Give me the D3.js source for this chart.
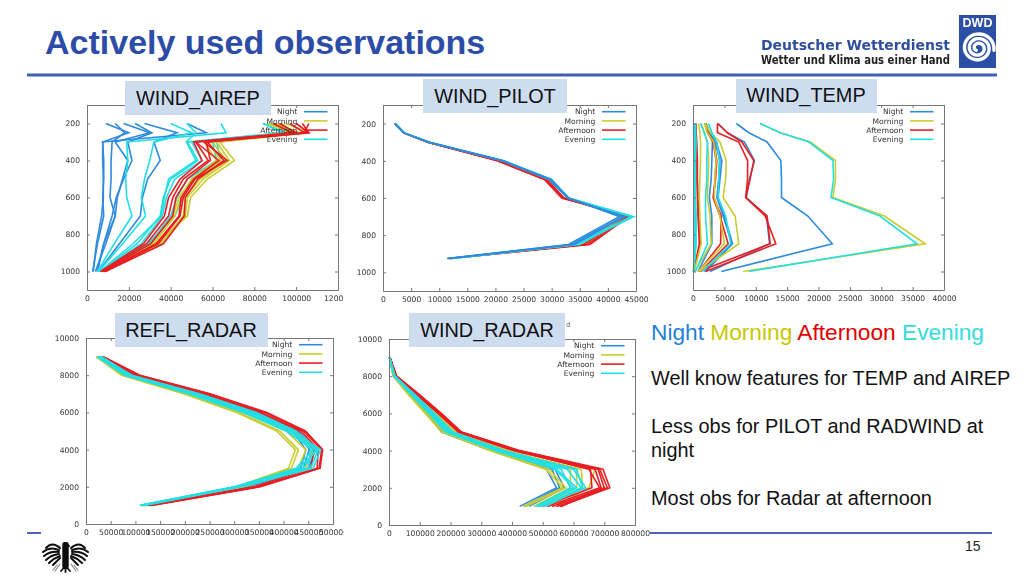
<!DOCTYPE html>
<html><head><meta charset="utf-8">
<script src="https://cdn.jsdelivr.net/npm/d3@7/dist/d3.min.js"></script>
<style>html,body{margin:0;padding:0;background:#fff;overflow:hidden}svg{display:block}text{font-family:"Liberation Sans",Arial,sans-serif}</style>
</head><body><svg id="c" width="1024" height="576"></svg>
<script>
const periods=["Night","Morning","Afternoon","Evening"];
const periodColors={Night:"#2e8ade",Morning:"#c9cc2e",Afternoon:"#e81e22",Evening:"#22dfe4"};
const pressureLevels=[200,250,300,400,500,600,700,850,1000];
const pilotLevels=[200,250,300,400,500,600,700,850,925];
const heightLevels=[1000,2000,3000,4000,5000,6000,7000,8000,9000];
const pressureTicks=[200,400,600,800,1000];
const heightTicks=[0,2000,4000,6000,8000,10000];

const airepNight=[
[9000,20000,7500,8000,8000,7500,8000,5000,2700],
[47800,57000,7500,7500,7800,7800,7000,4500,3000],
[13500,18000,12000,11500,11500,11000,13500,8000,4800],
[17500,30000,13500,19500,17000,14500,13500,9000,4000],
[23000,31000,19500,21500,17500,14000,12000,8000,5000],
[27500,43000,32000,35000,29000,26500,25500,15500,5500]];
const airepEvening=[
[64000,66500,19000,19500,18500,19000,21500,13000,5000],
[40000,50000,32000,30000,27500,26000,28000,17000,5500],
[47800,52000,47500,52000,39000,37000,35500,22000,6000],
[84000,95000,48000,53000,40000,36500,35000,24000,6200],
[84500,93000,50000,55000,42000,38000,36000,26000,6500],
[87000,98000,60000,62000,48000,43000,40000,30000,7000],
[90000,100000,62000,64000,50000,46000,42000,29000,7200]];
const airepMorning=[
[95000,106000,63500,70500,57500,49500,48000,33000,8800],
[90000,102000,62000,68000,55500,48000,47000,36000,8500],
[86000,98000,60000,66500,54000,47000,46000,35000,8200],
[93000,99000,58000,64000,52000,45000,42000,32000,7800],
[88000,97000,56000,62000,50000,44000,41000,31000,7500]];
const airepAfternoon=[
[103000,106000,57500,65500,53000,47000,46500,36500,8800],
[106000,104000,56000,67000,51500,46000,44500,34000,8400],
[100000,106000,52000,63000,51000,45000,44000,33000,8000],
[97000,104000,57000,59000,48000,42500,41000,30500,7500],
[92000,100000,52000,58000,46000,41000,39000,28500,7000],
[89000,98000,51000,55000,44500,39000,37000,27000,6500]];

const pilotNight=[
[2100,3700,8100,21300,29700,33000,42000,33000,11400],
[2100,3700,8200,21400,29900,32900,42600,33500,11600],
[2150,3750,8200,21200,29600,32800,43000,34000,11500]];
const pilotMorning=[
[2100,3700,8000,20500,28800,32000,43500,35500,11800],
[2100,3700,8100,20800,29000,32200,43200,35000,11900],
[2100,3700,8000,20600,28900,32100,43400,35800,11700]];
const pilotAfternoon=[
[2100,3700,7900,20300,28700,31800,43700,36800,11900],
[2100,3700,8000,20500,28900,32000,43900,36300,12000],
[2100,3700,8000,20700,29200,32200,43500,35700,11800]];
const pilotEvening=[
[2200,3800,8300,21400,29800,33000,44600,34500,12200],
[2200,3800,8300,21500,30000,33100,44300,34000,12000],
[2150,3750,8200,21200,29500,32900,44000,35000,12100]];

const tempNight=[
[6900,8900,11800,14000,14100,14100,18300,22200,4500],
[2000,2600,3700,4600,4300,4000,5000,6300,2000],
[1900,2500,3500,4300,4100,3800,4800,6200,1800],
[2100,2700,3100,3000,2900,2600,3000,3000,800],
[4000,5500,8200,9800,9000,8500,11700,12200,2700],
[200,250,300,300,300,300,300,400,100]];
const tempMorning=[
[10700,13900,18700,22700,22700,22300,30500,37000,8000],
[1900,2800,4300,5300,5200,4800,6700,7300,1000],
[1300,1800,2300,2500,2400,2300,2700,2900,300],
[900,1100,1200,1200,1100,1000,1100,1300,200],
[1800,2300,3300,3700,3500,3400,4300,5000,800]];
const tempAfternoon=[
[3900,3900,7300,8700,8700,8400,11500,13200,2000],
[3900,5500,7800,9700,9100,8400,11800,12300,900],
[2000,2400,3300,3800,3600,3200,4300,5600,1200],
[1900,2300,3200,3700,3500,3300,4500,4400,900],
[500,500,600,700,700,800,900,1200,100],
[300,400,500,600,600,700,800,1000,100]];
const tempEvening=[
[10700,13900,18500,22300,22400,22000,29800,35700,8900],
[1200,1800,2300,2200,2200,2000,2000,2300,400],
[300,300,300,300,300,300,300,400,100],
[100,100,150,200,200,200,200,300,50],
[400,400,500,400,400,400,500,500,100],
[2500,3000,3800,4200,4100,4000,5200,6000,1500]];

const reflNight=[
[120000,325000,440000,452000,425000,345000,232000,97000,31000],
[118000,322000,435000,445000,418000,340000,228000,95000,30000],
[121000,328000,450000,465000,430000,350000,238000,101000,32000]];
const reflMorning=[
[112000,305000,410000,424000,386000,305000,197000,72000,20000],
[113000,307000,416000,430000,392000,310000,200000,75000,21000],
[115000,315000,430000,445000,405000,320000,210000,80000,24000],
[118000,320000,445000,460000,420000,335000,225000,90000,28000]];
const reflAfternoon=[
[133000,353000,474000,479000,444000,366000,251000,109000,35000],
[130000,350000,472000,477000,440000,362000,248000,107000,34000],
[128000,345000,468000,470000,435000,355000,240000,103000,33000],
[125000,340000,455000,462000,428000,350000,235000,100000,32000]];
const reflEvening=[
[110000,300000,430000,470000,410000,325000,212000,82000,24000],
[112000,302000,440000,465000,415000,330000,218000,85000,26000],
[114000,305000,450000,455000,420000,338000,222000,88000,28000],
[116000,310000,455000,470000,425000,345000,230000,93000,30000],
[118000,315000,460000,475000,415000,335000,220000,90000,32000],
[109000,303000,425000,460000,405000,318000,207000,78000,22000]];

const radarNight=[
[425000,545000,512000,330000,171000,122000,65000,14000,1000],
[440000,555000,530000,335000,175000,125000,68000,15000,1500],
[455000,570000,540000,340000,180000,128000,70000,16000,1500]];
const radarMorning=[
[435000,565000,510000,328000,172000,118000,63000,14000,1000],
[445000,575000,520000,335000,180000,125000,68000,16000,1500],
[470000,590000,590000,350000,195000,135000,78000,18000,2000],
[495000,610000,610000,365000,205000,145000,82000,19000,2000],
[520000,630000,625000,375000,210000,150000,85000,20000,2000],
[540000,650000,670000,390000,218000,155000,90000,22000,2500]];
const radarAfternoon=[
[555000,718000,696000,425000,236000,170000,100000,25000,3000],
[545000,710000,685000,420000,232000,168000,98000,24000,3000],
[530000,700000,680000,418000,230000,165000,96000,24000,3000],
[515000,685000,650000,410000,228000,162000,93000,23000,3000],
[500000,660000,655000,405000,225000,160000,90000,22000,2500],
[560000,690000,670000,415000,234000,168000,97000,24000,3000]];
const radarEvening=[
[475000,600000,540000,345000,185000,130000,72000,17000,1500],
[485000,610000,545000,350000,190000,133000,74000,17000,1500],
[500000,625000,580000,360000,200000,140000,80000,18000,2000],
[490000,640000,600000,370000,205000,145000,83000,19000,2000],
[510000,630000,610000,375000,208000,148000,85000,20000,2000],
[480000,590000,560000,355000,195000,137000,76000,18000,2000]];

const svg=d3.select("#c");
const defs=svg.append("defs");
defs.append("filter").attr("id","soft").attr("x","-5%").attr("y","-5%").attr("width","110%").attr("height","110%")
  .append("feGaussianBlur").attr("stdDeviation",0.5);

const panels=[
 {id:"airep",label:"WIND_AIREP",box:[125,81,146,34],lab:[198,105],x0:87,x1:338,y0:105,y1:290,xMax:120000,
  xTicks:[0,20000,40000,60000,80000,100000,120000],yDomain:[100,1100],yTicks:pressureTicks,levels:pressureLevels,
  clipRight:343,order:["Night","Evening","Morning","Afternoon"],
  data:{Night:airepNight,Morning:airepMorning,Afternoon:airepAfternoon,Evening:airepEvening}},
 {id:"pilot",label:"WIND_PILOT",box:[423,79,144,34],lab:[495,103],x0:383,x1:636,y0:105,y1:291,xMax:45000,
  xTicks:d3.range(0,45001,5000),yDomain:[100,1100],yTicks:pressureTicks,levels:pilotLevels,
  order:["Morning","Afternoon","Evening","Night"],
  data:{Night:pilotNight,Morning:pilotMorning,Afternoon:pilotAfternoon,Evening:pilotEvening}},
 {id:"temp",label:"WIND_TEMP",box:[736,79,141,34],lab:[806,102],x0:693,x1:944,y0:105,y1:290,xMax:40000,
  xTicks:d3.range(0,40001,5000),yDomain:[100,1100],yTicks:pressureTicks,levels:pressureLevels,
  order:["Night","Afternoon","Morning","Evening"],
  data:{Night:tempNight,Morning:tempMorning,Afternoon:tempAfternoon,Evening:tempEvening}},
 {id:"refl",label:"REFL_RADAR",box:[115,313,153,34],lab:[191,337],x0:86,x1:333,y0:338,y1:524,xMax:500000,
  xTicks:d3.range(0,500001,50000),yDomain:[0,10000],yTicks:heightTicks,levels:heightLevels,
  clipRight:344,order:["Night","Morning","Afternoon","Evening"],
  data:{Night:reflNight,Morning:reflMorning,Afternoon:reflAfternoon,Evening:reflEvening}},
 {id:"radar",label:"WIND_RADAR",box:[409,313,156,34],lab:[487,337],x0:389,x1:635,y0:339,y1:525,xMax:800000,
  xTicks:d3.range(0,800001,100000),yDomain:[0,10000],yTicks:heightTicks,levels:heightLevels,
  order:["Night","Morning","Afternoon","Evening"],
  data:{Night:radarNight,Morning:radarMorning,Afternoon:radarAfternoon,Evening:radarEvening}}
];

// page furniture
svg.append("text").attr("x",45).attr("y",54).attr("font-size",34).attr("font-weight","bold").attr("fill","#2c4ca8").text("Actively used observations");
svg.append("rect").attr("x",27).attr("y",73.5).attr("width",970).attr("height",3).attr("fill","#3f5fb4");
svg.append("rect").attr("x",27).attr("y",532).attr("width",14).attr("height",2).attr("fill","#4a66b5");
svg.append("rect").attr("x",650).attr("y",532).attr("width",342).attr("height",2).attr("fill","#4a66b5");
svg.append("text").attr("x",965).attr("y",551).attr("font-size",14).attr("fill","#222").text("15");

// logo
const logo=svg.append("g").attr("filter","url(#soft)");
logo.append("text").attr("x",761).attr("y",49.5).attr("style","font-family:'DejaVu Sans'").attr("font-size",14).attr("font-weight","bold").attr("fill","#2f50a0").attr("textLength",189).attr("lengthAdjust","spacingAndGlyphs").text("Deutscher Wetterdienst");
logo.append("text").attr("x",761).attr("y",63.5).attr("style","font-family:'DejaVu Sans'").attr("font-size",11.5).attr("font-weight","bold").attr("fill","#222").attr("textLength",189).attr("lengthAdjust","spacingAndGlyphs").text("Wetter und Klima aus einer Hand");
logo.append("rect").attr("x",959).attr("y",15).attr("width",37).attr("height",53).attr("fill","#2a4fa5");
logo.append("text").attr("x",977.5).attr("y",26.5).attr("text-anchor","middle").attr("font-size",12.5).attr("font-weight","bold").attr("fill","#fff").text("DWD");
const spiral=d3.range(0,5.4*Math.PI,0.2).map(a=>{const r=3+a*0.78;return [978+r*Math.cos(a+2.2),48+r*0.95*Math.sin(a+2.2)];});
logo.append("path").attr("d",d3.line().curve(d3.curveCatmullRom)(spiral)).attr("fill","none").attr("stroke","#fff").attr("stroke-width",3.4).attr("stroke-linecap","round");

// eagle emblem
const eagle=svg.append("g").attr("fill","none").attr("stroke","#111").attr("stroke-linecap","round").attr("filter","url(#soft)");
["M60 548Q52 541 46 548","M59 550Q50 546 43 552","M59 552Q50 551 44 556","M59 554Q51 555 46 560","M60 556Q54 558 49 563","M60 558Q57 561 53 565",
 "M71 548Q79 541 85 548","M72 550Q81 546 88 552","M72 552Q81 551 87 556","M72 554Q80 555 85 560","M71 556Q77 558 82 563","M71 558Q74 561 78 565"]
 .forEach(d=>eagle.append("path").attr("d",d).attr("stroke-width",2));
eagle.append("path").attr("d","M65.5 545L65.5 566").attr("stroke-width",6.5);
eagle.append("path").attr("d","M65.5 566L61 571M65.5 566L65.5 572M65.5 566L70 571").attr("stroke-width",1.8);
eagle.append("path").attr("d","M65 543.5L69 546").attr("stroke-width",2);
eagle.append("path").attr("d","M60 564L55 571M57 565L53 570M71 564L76 571M74 565L78 570").attr("stroke-width",1.2).attr("stroke","#888");

// panels
panels.forEach(p=>{
  const clip="clip-"+p.id;
  defs.append("clipPath").attr("id",clip).append("rect").attr("x",p.x0-40).attr("y",p.y0-20).attr("width",(p.clipRight||p.x1+40)-p.x0+40).attr("height",p.y1-p.y0+50);
  const g=svg.append("g").attr("clip-path",`url(#${clip})`).append("g").attr("filter","url(#soft)");
  const x=d3.scaleLinear().domain([0,p.xMax]).range([p.x0,p.x1]);
  const y=d3.scaleLinear().domain(p.yDomain).range(p.yDomain[0]===0?[p.y1,p.y0]:[p.y0,p.y1]);
  const line=d3.line().x(d=>x(d[0])).y(d=>y(d[1]));
  p.order.forEach(name=>{
    g.append("g").selectAll("path").data(p.data[name]).join("path")
      .attr("d",vals=>line(vals.map((v,i)=>[v,p.levels[i]])))
      .attr("fill","none").attr("stroke",periodColors[name]).attr("stroke-width",1.6).attr("stroke-linejoin","miter");
  });
  const fmt=d=>String(d);
  const ax=(gen,tx,ty)=>{
    const a=g.append("g").attr("transform",`translate(${tx},${ty})`).call(gen);
    a.selectAll("path,line").attr("stroke","#777");
    a.selectAll("text").attr("fill","#333").attr("font-size",7.6).attr("style","font-family:'DejaVu Sans'");
    return a;
  };
  ax(d3.axisBottom(x).tickValues(p.xTicks).tickFormat(fmt).tickSize(-3).tickSizeOuter(0).tickPadding(5.5),0,p.y1);
  ax(d3.axisTop(x).tickValues(p.xTicks).tickFormat("").tickSize(-3).tickSizeOuter(0),0,p.y0);
  ax(d3.axisLeft(y).tickValues(p.yTicks).tickFormat(fmt).tickSize(-3).tickSizeOuter(0).tickPadding(7),p.x0,0);
  ax(d3.axisRight(y).tickValues(p.yTicks).tickFormat("").tickSize(-3).tickSizeOuter(0),p.x1,0);
  // legend
  const lg=g.append("g");
  periods.forEach((name,i)=>{
    const ly=p.y0+6.7+i*9.2;
    lg.append("text").attr("x",p.x1-40.7).attr("y",ly+2.7).attr("text-anchor","end").attr("font-size",7.6).attr("fill","#333").attr("style","font-family:'DejaVu Sans'").text(name);
    lg.append("line").attr("x1",p.x1-34).attr("x2",p.x1-10.5).attr("y1",ly).attr("y2",ly).attr("stroke",periodColors[name]).attr("stroke-width",1.6);
  });
});
svg.append("text").attr("x",566).attr("y",327).attr("font-size",7).attr("fill","#666").attr("style","font-family:'DejaVu Sans'").text("d");
panels.forEach(p=>{
  svg.append("rect").attr("x",p.box[0]).attr("y",p.box[1]).attr("width",p.box[2]).attr("height",p.box[3]).attr("fill","#cedcf0");
  svg.append("text").attr("x",p.lab[0]).attr("y",p.lab[1]).attr("text-anchor","middle").attr("font-size",19.9).attr("fill","#111").text(p.label);
});

// commentary
const head=svg.append("text").attr("x",651).attr("y",340).attr("font-size",22.7);
periods.forEach((name,i)=>head.append("tspan").attr("fill",{Night:"#1f7fd8",Morning:"#c8c800",Afternoon:"#e00000",Evening:"#33dcdc"}[name]).text(name+(i<3?" ":"")));
[["Well know features for TEMP and AIREP",385],["Less obs for PILOT and RADWIND at",433],["night",457],["Most obs for Radar at afternoon",505]]
 .forEach(([t,yy])=>svg.append("text").attr("x",651).attr("y",yy).attr("font-size",19.9).attr("fill","#111").text(t));
</script></body></html>
